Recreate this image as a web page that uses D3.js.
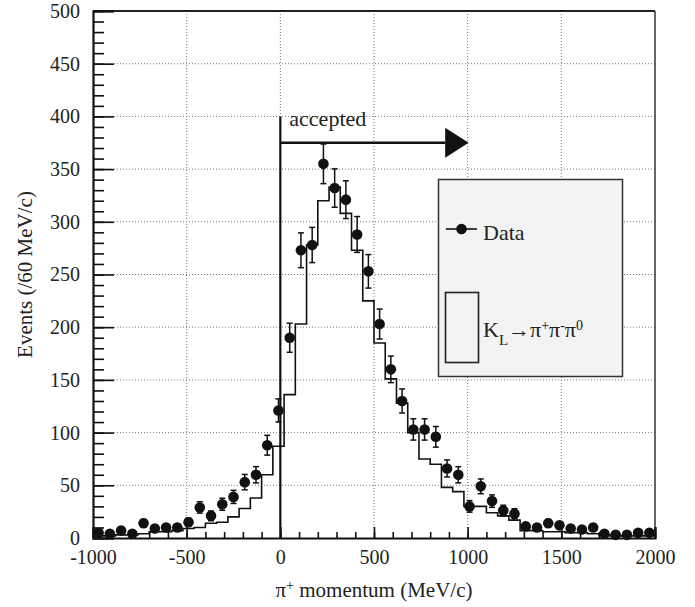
<!DOCTYPE html>
<html>
<head>
<meta charset="utf-8">
<script src="https://cdn.jsdelivr.net/npm/d3@7"></script>
<style>
  body { margin: 0; background: #fff; }
</style>
</head>
<body>
<div id="chart"></div>
<script>
// bin centres of the 60 MeV/c bins, -1000 .. 2000
var binCenters = [-970, -910, -850, -790, -730, -670, -610, -550, -490, -430,
  -370, -310, -250, -190, -130, -70, -10, 50, 110, 170,
  230, 290, 350, 410, 470, 530, 590, 650, 710, 770,
  830, 890, 950, 1010, 1070, 1130, 1190, 1250, 1310, 1370,
  1430, 1490, 1550, 1610, 1670, 1730, 1790, 1850, 1910, 1970];

// data points
var dataCounts = [5, 4, 7, 4, 14, 9, 10, 10, 15, 29,
  21, 32, 39, 53, 60, 88, 121, 190, 273, 278,
  355, 332, 321, 288, 253, 203, 160, 130, 103, 103,
  96, 66, 60, 30, 49, 35, 26, 23, 11, 10,
  14, 12, 9, 8, 10, 4, 3, 3, 5, 5];

var dataErrors = [2.2, 2, 2.6, 2, 3.7, 3, 3.2, 3.2, 3.9, 5.4,
  4.6, 5.7, 6.2, 7.3, 7.7, 9.4, 11, 13.8, 16.5, 16.7,
  18.8, 18.2, 17.9, 17, 15.9, 14.2, 12.6, 11.4, 10.1, 10.1,
  9.8, 8.1, 7.7, 5.5, 7, 5.9, 5.1, 4.8, 3.3, 3.2,
  3.7, 3.5, 3, 2.8, 3.2, 2, 1.7, 1.7, 2.2, 2.2];

// K_L -> pi+ pi- pi0 simulation histogram
var mcCounts = [2, 2, 3, 3, 4, 6, 6, 7, 9, 10,
  14, 15, 20, 28, 38, 60, 87, 136, 203, 278,
  320, 333, 308, 273, 225, 185, 151, 128, 100, 75,
  70, 48, 44, 30, 30, 24, 21, 17, 7, 7,
  6, 6, 5, 5, 4, 3, 2, 2, 2, 2];

var binWidth = 60;
var xTicks = [-1000, -500, 0, 500, 1000, 1500, 2000];
var yTicks = [0, 50, 100, 150, 200, 250, 300, 350, 400, 450, 500];

var serif = "'Liberation Serif', 'DejaVu Serif', 'Noto Serif', 'Times New Roman', serif";

var svgWidth = 695;
var svgHeight = 607;
var margin = { top: 11, right: 40, bottom: 69, left: 93 };
var width = svgWidth - margin.left - margin.right;
var height = svgHeight - margin.top - margin.bottom;

var svg = d3.select("#chart")
  .append("svg")
  .attr("width", svgWidth)
  .attr("height", svgHeight)
  .attr("font-family", serif);

var chartGroup = svg.append("g")
  .attr("transform", `translate(${margin.left}, ${margin.top})`);

var xScale = d3.scaleLinear().domain([-1000, 2000]).range([0, width]);
var yScale = d3.scaleLinear().domain([0, 500]).range([height, 0]);

// dotted grid
chartGroup.append("g")
  .selectAll("line")
  .data(xTicks.slice(1, -1))
  .enter()
  .append("line")
  .attr("x1", d => xScale(d)).attr("x2", d => xScale(d))
  .attr("y1", 0).attr("y2", height)
  .attr("stroke", "#777").attr("stroke-width", 1)
  .attr("stroke-dasharray", "1,2");

chartGroup.append("g")
  .selectAll("line")
  .data(yTicks.slice(1, -1))
  .enter()
  .append("line")
  .attr("x1", 0).attr("x2", width)
  .attr("y1", d => yScale(d)).attr("y2", d => yScale(d))
  .attr("stroke", "#777").attr("stroke-width", 1)
  .attr("stroke-dasharray", "1,2");

// frame top / right
chartGroup.append("line")
  .attr("x1", 0).attr("x2", width).attr("y1", 0).attr("y2", 0)
  .attr("stroke", "#222").attr("stroke-width", 2);
chartGroup.append("line")
  .attr("x1", width).attr("x2", width).attr("y1", 0).attr("y2", height)
  .attr("stroke", "#333").attr("stroke-width", 1.5);

// histogram (step line)
var stepPoints = binCenters.map((c, i) => [c - binWidth / 2, mcCounts[i]]);
stepPoints.push([2000, mcCounts[mcCounts.length - 1]]);
var stepLine = d3.line()
  .x(d => xScale(d[0]))
  .y(d => yScale(d[1]))
  .curve(d3.curveStepAfter);

chartGroup.append("path")
  .datum(stepPoints)
  .attr("d", stepLine)
  .attr("fill", "none")
  .attr("stroke", "#111")
  .attr("stroke-width", 1.6);

// accepted cut line + arrow
chartGroup.append("line")
  .attr("x1", xScale(0)).attr("x2", xScale(0))
  .attr("y1", yScale(0)).attr("y2", yScale(400))
  .attr("stroke", "#111").attr("stroke-width", 2.2);
chartGroup.append("line")
  .attr("x1", xScale(0)).attr("x2", xScale(880))
  .attr("y1", yScale(375)).attr("y2", yScale(375))
  .attr("stroke", "#111").attr("stroke-width", 2.5);
chartGroup.append("path")
  .attr("d", `M${xScale(880)},${yScale(375) - 15} L${xScale(1005)},${yScale(375)} L${xScale(880)},${yScale(375) + 15} Z`)
  .attr("fill", "#111");
chartGroup.append("text")
  .attr("x", xScale(0) + 9)
  .attr("y", yScale(375) - 17)
  .attr("font-family", serif)
  .attr("font-size", "22px")
  .attr("fill", "#222")
  .text("accepted");

// error bars
var errGroup = chartGroup.append("g")
  .attr("stroke", "#111").attr("stroke-width", 1.5);
binCenters.forEach(function(c, i) {
  var x = xScale(c);
  var top = yScale(dataCounts[i] + dataErrors[i]);
  var bottom = yScale(dataCounts[i] - dataErrors[i]);
  errGroup.append("line").attr("x1", x).attr("x2", x).attr("y1", top).attr("y2", bottom);
  errGroup.append("line").attr("x1", x - 3).attr("x2", x + 3).attr("y1", top).attr("y2", top);
  errGroup.append("line").attr("x1", x - 3).attr("x2", x + 3).attr("y1", bottom).attr("y2", bottom);
});

// data markers
chartGroup.append("g")
  .selectAll("circle")
  .data(binCenters)
  .enter()
  .append("circle")
  .attr("cx", d => xScale(d))
  .attr("cy", (d, i) => yScale(dataCounts[i]))
  .attr("r", 5.3)
  .attr("fill", "#111");

// axes, ticks pointing inwards
var xMinor = d3.range(-1000, 2001, 100);
var yMinor = d3.range(0, 501, 10);

chartGroup.append("g")
  .attr("transform", `translate(0, ${height})`)
  .call(d3.axisBottom(xScale).tickValues(xMinor).tickSize(-6).tickFormat(""))
  .call(g => g.select(".domain").remove());
var xAxis = chartGroup.append("g")
  .attr("transform", `translate(0, ${height})`)
  .call(d3.axisBottom(xScale).tickValues(xTicks).tickSize(-11).tickPadding(12).tickFormat(d => d));

chartGroup.append("g")
  .call(d3.axisLeft(yScale).tickValues(yMinor).tickSize(-11).tickFormat(""))
  .call(g => g.select(".domain").remove());
var yAxis = chartGroup.append("g")
  .call(d3.axisLeft(yScale).tickValues(yTicks).tickSize(-21).tickPadding(13).tickFormat(d => d));

[xAxis, yAxis].forEach(function(ax) {
  ax.attr("font-family", serif).attr("font-size", 20);
  ax.selectAll("text")
    .attr("font-family", serif)
    .attr("font-size", "20px")
    .attr("fill", "#222");
});
chartGroup.selectAll(".tick line").attr("stroke", "#111").attr("stroke-width", 1.6);
xAxis.select(".domain").attr("stroke", "#111").attr("stroke-width", 2.2);
yAxis.select(".domain").attr("stroke", "#111").attr("stroke-width", 2.2);

// axis titles
var xLabel = svg.append("text")
  .attr("x", margin.left + width / 2)
  .attr("y", 597)
  .attr("text-anchor", "middle")
  .attr("font-family", serif)
  .attr("fill", "#222")
  .attr("font-size", "21px");
xLabel.append("tspan").text("π");
xLabel.append("tspan").attr("baseline-shift", "super").attr("font-size", "14px").text("+");
xLabel.append("tspan").text(" momentum (MeV/c)");

svg.append("text")
  .attr("transform", `translate(32, ${margin.top + height / 2}) rotate(-90)`)
  .attr("text-anchor", "middle")
  .attr("font-family", serif)
  .attr("fill", "#222")
  .attr("font-size", "21px")
  .text("Events (/60 MeV/c)");

// legend
var legend = svg.append("g");
legend.append("rect")
  .attr("x", 438.5).attr("y", 179.5)
  .attr("width", 184).attr("height", 197)
  .attr("fill", "#f3f3f3")
  .attr("stroke", "#333").attr("stroke-width", 1.5);
legend.append("line")
  .attr("x1", 446).attr("x2", 477).attr("y1", 229).attr("y2", 229)
  .attr("stroke", "#111").attr("stroke-width", 1.6);
legend.append("circle")
  .attr("cx", 461.5).attr("cy", 229).attr("r", 5.3).attr("fill", "#111");
legend.append("text")
  .attr("x", 483).attr("y", 240)
  .attr("font-family", serif)
  .attr("fill", "#222")
  .attr("font-size", "22px")
  .text("Data");
legend.append("rect")
  .attr("x", 445.5).attr("y", 292.5)
  .attr("width", 33).attr("height", 70)
  .attr("fill", "none")
  .attr("stroke", "#222").attr("stroke-width", 1.6);
var kText = legend.append("text")
  .attr("x", 483).attr("y", 337)
  .attr("font-family", serif)
  .attr("fill", "#222")
  .attr("font-size", "22px");
kText.append("tspan").text("K");
kText.append("tspan").attr("baseline-shift", "sub").attr("font-size", "15px").text("L");
kText.append("tspan").text("→π");
kText.append("tspan").attr("baseline-shift", "super").attr("font-size", "14px").text("+");
kText.append("tspan").text("π");
kText.append("tspan").attr("baseline-shift", "super").attr("font-size", "14px").text("-");
kText.append("tspan").text("π");
kText.append("tspan").attr("baseline-shift", "super").attr("font-size", "14px").text("0");
</script>
</body>
</html>
